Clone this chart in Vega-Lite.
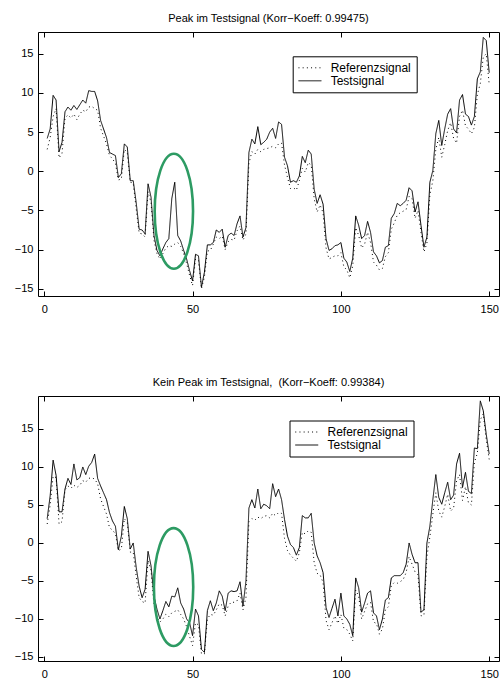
{
  "$schema": "https://vega.github.io/schema/vega-lite/v6.json",
  "padding": {"left": 13, "top": 12, "right": 0, "bottom": 0},
  "background": "white",
  "config": {
    "font": "Liberation Sans",
    "view": {"stroke": "black", "strokeWidth": 1},
    "axis": {"grid": false, "domain": false, "tickColor": "black", "tickSize": -5, "labelFont": "Liberation Sans", "labelFontSize": 11, "labelColor": "black", "title": null},
    "axisX": {"labelPadding": 12},
    "axisY": {"labelPadding": 10},
    "title": {"fontSize": 11, "fontWeight": "normal", "font": "Liberation Sans", "color": "black", "offset": 8},
    "legend": {"symbolType": "M -1 0 L 3 0", "symbolSize": 132, "symbolStrokeWidth": 1, "symbolStrokeColor": "black", "symbolFillColor": "transparent", "strokeColor": "black", "fillColor": "white", "padding": 5, "labelFontSize": 12, "labelFont": "Liberation Sans", "labelColor": "black", "labelOffset": 20, "rowPadding": 0, "cornerRadius": 0}
  },
  "datasets": {
    "top": [
      {"x":1,"ref":2.8,"test":4.2},{"x":2,"ref":4.3,"test":5.4},{"x":3,"ref":7.0,"test":9.7},{"x":4,"ref":8.0,"test":9.1},{"x":5,"ref":1.7,"test":2.5},
      {"x":6,"ref":2.3,"test":3.7},{"x":7,"ref":6.8,"test":7.6},{"x":8,"ref":7.2,"test":8.2},{"x":9,"ref":6.8,"test":7.8},{"x":10,"ref":7.3,"test":8.4},
      {"x":11,"ref":6.6,"test":7.9},{"x":12,"ref":7.3,"test":8.5},{"x":13,"ref":7.8,"test":9.1},{"x":14,"ref":7.6,"test":8.7},{"x":15,"ref":8.2,"test":10.3},
      {"x":16,"ref":8.3,"test":10.2},{"x":17,"ref":8.0,"test":10.2},{"x":18,"ref":7.8,"test":9.0},{"x":19,"ref":5.5,"test":6.5},{"x":20,"ref":4.5,"test":5.4},
      {"x":21,"ref":3.5,"test":4.3},{"x":22,"ref":2.0,"test":2.4},{"x":23,"ref":1.6,"test":2.2},{"x":24,"ref":1.0,"test":2.0},{"x":25,"ref":-1.1,"test":-0.8},
      {"x":26,"ref":-1.0,"test":-0.3},{"x":27,"ref":2.8,"test":3.5},{"x":28,"ref":2.4,"test":3.1},{"x":29,"ref":-1.4,"test":-1.2},{"x":30,"ref":-1.5,"test":-1.2},
      {"x":31,"ref":-4.8,"test":-4.0},{"x":32,"ref":-7.9,"test":-7.4},{"x":33,"ref":-8.0,"test":-7.5},{"x":34,"ref":-8.4,"test":-8.0},{"x":35,"ref":-2.6,"test":-1.6},
      {"x":36,"ref":-4.0,"test":-3.3},{"x":37,"ref":-8.8,"test":-8.2},{"x":38,"ref":-10.5,"test":-10.1},{"x":39,"ref":-11.2,"test":-10.8},{"x":40,"ref":-10.5,"test":-9.9},
      {"x":41,"ref":-9.8,"test":-9.1},{"x":42,"ref":-9.5,"test":-8.6},{"x":43,"ref":-9.6,"test":-3.5},{"x":44,"ref":-9.3,"test":-1.4},{"x":45,"ref":-9.1,"test":-8.2},
      {"x":46,"ref":-9.6,"test":-8.9},{"x":47,"ref":-10.5,"test":-10.1},{"x":48,"ref":-11.8,"test":-11.2},{"x":49,"ref":-13.3,"test":-12.7},{"x":50,"ref":-14.6,"test":-14.0},
      {"x":51,"ref":-11.2,"test":-10.6},{"x":52,"ref":-11.4,"test":-10.8},{"x":53,"ref":-15.0,"test":-14.8},{"x":54,"ref":-13.5,"test":-12.9},{"x":55,"ref":-10.2,"test":-9.4},
      {"x":56,"ref":-10.1,"test":-9.4},{"x":57,"ref":-9.3,"test":-9.1},{"x":58,"ref":-8.4,"test":-7.5},{"x":59,"ref":-8.6,"test":-7.8},{"x":60,"ref":-8.3,"test":-7.4},
      {"x":61,"ref":-10.0,"test":-9.7},{"x":62,"ref":-9.0,"test":-8.2},{"x":63,"ref":-8.7,"test":-7.9},{"x":64,"ref":-8.8,"test":-8.2},{"x":65,"ref":-7.6,"test":-6.7},
      {"x":66,"ref":-7.0,"test":-5.7},{"x":67,"ref":-8.8,"test":-8.4},{"x":68,"ref":-8.0,"test":-7.2},{"x":69,"ref":1.0,"test":2.4},{"x":70,"ref":2.5,"test":4.1},
      {"x":71,"ref":2.2,"test":3.5},{"x":72,"ref":2.8,"test":5.7},{"x":73,"ref":2.5,"test":3.4},{"x":74,"ref":2.8,"test":3.7},{"x":75,"ref":2.9,"test":4.1},
      {"x":76,"ref":3.0,"test":5.0},{"x":77,"ref":3.2,"test":5.5},{"x":78,"ref":3.0,"test":4.2},{"x":79,"ref":3.5,"test":6.3},{"x":80,"ref":3.6,"test":6.0},
      {"x":81,"ref":0.8,"test":1.8},{"x":82,"ref":-0.8,"test":0.7},{"x":83,"ref":-2.2,"test":-1.4},{"x":84,"ref":-2.1,"test":-1.2},{"x":85,"ref":-2.4,"test":-1.4},
      {"x":86,"ref":-1.2,"test":-0.6},{"x":87,"ref":0.4,"test":1.9},{"x":88,"ref":-0.1,"test":1.1},{"x":89,"ref":1.1,"test":2.7},{"x":90,"ref":0.8,"test":2.2},
      {"x":91,"ref":-3.5,"test":-2.3},{"x":92,"ref":-5.2,"test":-4.1},{"x":93,"ref":-4.3,"test":-3.0},{"x":94,"ref":-5.3,"test":-4.2},{"x":95,"ref":-9.8,"test":-8.6},
      {"x":96,"ref":-11.2,"test":-10.1},{"x":97,"ref":-11.0,"test":-9.9},{"x":98,"ref":-10.8,"test":-9.5},{"x":99,"ref":-10.8,"test":-9.4},{"x":100,"ref":-10.4,"test":-9.1},
      {"x":101,"ref":-12.2,"test":-11.1},{"x":102,"ref":-12.6,"test":-11.6},{"x":103,"ref":-13.6,"test":-12.8},{"x":104,"ref":-12.1,"test":-11.1},{"x":105,"ref":-7.2,"test":-5.7},
      {"x":106,"ref":-8.2,"test":-6.9},{"x":107,"ref":-9.8,"test":-8.6},{"x":108,"ref":-9.3,"test":-8.2},{"x":109,"ref":-7.8,"test":-6.4},{"x":110,"ref":-9.1,"test":-7.8},
      {"x":111,"ref":-11.6,"test":-10.3},{"x":112,"ref":-12.0,"test":-10.8},{"x":113,"ref":-12.6,"test":-11.7},{"x":114,"ref":-12.4,"test":-11.4},{"x":115,"ref":-10.9,"test":-9.7},
      {"x":116,"ref":-10.4,"test":-9.5},{"x":117,"ref":-7.4,"test":-6.0},{"x":118,"ref":-6.6,"test":-5.4},{"x":119,"ref":-5.6,"test":-4.1},{"x":120,"ref":-5.3,"test":-4.4},
      {"x":121,"ref":-5.1,"test":-4.1},{"x":122,"ref":-4.9,"test":-3.7},{"x":123,"ref":-3.2,"test":-2.1},{"x":124,"ref":-3.5,"test":-2.5},{"x":125,"ref":-6.0,"test":-5.2},
      {"x":126,"ref":-5.0,"test":-3.9},{"x":127,"ref":-7.8,"test":-6.9},{"x":128,"ref":-10.3,"test":-9.7},{"x":129,"ref":-9.2,"test":-8.4},{"x":130,"ref":-3.0,"test":-1.4},
      {"x":131,"ref":-1.2,"test":0.1},{"x":132,"ref":2.8,"test":4.8},{"x":133,"ref":4.3,"test":6.5},{"x":134,"ref":1.8,"test":3.3},{"x":135,"ref":3.4,"test":5.4},
      {"x":136,"ref":5.2,"test":7.3},{"x":137,"ref":6.2,"test":8.0},{"x":138,"ref":4.2,"test":5.4},{"x":139,"ref":3.6,"test":4.9},{"x":140,"ref":7.0,"test":9.1},
      {"x":141,"ref":7.8,"test":9.8},{"x":142,"ref":5.8,"test":7.3},{"x":143,"ref":5.4,"test":7.0},{"x":144,"ref":4.8,"test":5.9},{"x":145,"ref":5.6,"test":7.0},
      {"x":146,"ref":9.8,"test":11.8},{"x":147,"ref":11.2,"test":12.7},{"x":148,"ref":14.6,"test":17.1},{"x":149,"ref":15.0,"test":16.7},{"x":150,"ref":11.1,"test":12.6}
    ],
    "bottom": [
      {"x":1,"ref":2.5,"test":3.2},{"x":2,"ref":5.0,"test":6.2},{"x":3,"ref":8.8,"test":10.9},{"x":4,"ref":8.6,"test":8.9},{"x":5,"ref":2.5,"test":4.1},
      {"x":6,"ref":2.8,"test":4.1},{"x":7,"ref":7.0,"test":7.1},{"x":8,"ref":7.5,"test":8.5},{"x":9,"ref":7.2,"test":7.7},{"x":10,"ref":7.6,"test":10.4},
      {"x":11,"ref":7.3,"test":8.3},{"x":12,"ref":7.6,"test":8.6},{"x":13,"ref":8.2,"test":10.0},{"x":14,"ref":8.0,"test":9.0},{"x":15,"ref":8.5,"test":10.1},
      {"x":16,"ref":8.6,"test":10.6},{"x":17,"ref":8.4,"test":11.7},{"x":18,"ref":7.8,"test":8.5},{"x":19,"ref":5.8,"test":7.5},{"x":20,"ref":4.8,"test":6.6},
      {"x":21,"ref":3.8,"test":5.7},{"x":22,"ref":2.0,"test":4.0},{"x":23,"ref":1.7,"test":2.9},{"x":24,"ref":1.2,"test":2.2},{"x":25,"ref":-1.0,"test":-0.9},
      {"x":26,"ref":-0.8,"test":0.9},{"x":27,"ref":3.2,"test":4.8},{"x":28,"ref":2.7,"test":3.2},{"x":29,"ref":-1.2,"test":-0.8},{"x":30,"ref":-1.2,"test":0.0},
      {"x":31,"ref":-4.4,"test":-3.2},{"x":32,"ref":-7.2,"test":-5.7},{"x":33,"ref":-7.7,"test":-7.2},{"x":34,"ref":-7.9,"test":-6.1},{"x":35,"ref":-2.3,"test":-1.1},
      {"x":36,"ref":-3.6,"test":-3.0},{"x":37,"ref":-8.2,"test":-7.0},{"x":38,"ref":-9.8,"test":-8.7},{"x":39,"ref":-10.4,"test":-10.0},{"x":40,"ref":-10.0,"test":-8.9},
      {"x":41,"ref":-9.4,"test":-7.7},{"x":42,"ref":-9.7,"test":-8.4},{"x":43,"ref":-9.2,"test":-7.0},{"x":44,"ref":-9.0,"test":-7.1},{"x":45,"ref":-8.8,"test":-5.9},
      {"x":46,"ref":-9.4,"test":-7.9},{"x":47,"ref":-10.0,"test":-8.7},{"x":48,"ref":-11.0,"test":-10.0},{"x":49,"ref":-12.3,"test":-10.5},{"x":50,"ref":-13.5,"test":-12.2},
      {"x":51,"ref":-10.5,"test":-8.7},{"x":52,"ref":-10.8,"test":-9.6},{"x":53,"ref":-14.6,"test":-14.0},{"x":54,"ref":-14.6,"test":-14.4},{"x":55,"ref":-10.0,"test":-8.9},
      {"x":56,"ref":-9.4,"test":-7.6},{"x":57,"ref":-9.5,"test":-8.9},{"x":58,"ref":-8.8,"test":-7.9},{"x":59,"ref":-8.0,"test":-6.3},{"x":60,"ref":-8.2,"test":-7.0},
      {"x":61,"ref":-9.6,"test":-8.9},{"x":62,"ref":-8.3,"test":-6.6},{"x":63,"ref":-7.8,"test":-6.3},{"x":64,"ref":-7.8,"test":-6.4},{"x":65,"ref":-7.6,"test":-6.3},
      {"x":66,"ref":-6.6,"test":-5.1},{"x":67,"ref":-8.8,"test":-8.3},{"x":68,"ref":-7.2,"test":-5.0},{"x":69,"ref":2.8,"test":4.6},{"x":70,"ref":3.2,"test":5.7},
      {"x":71,"ref":3.0,"test":4.6},{"x":72,"ref":3.4,"test":7.1},{"x":73,"ref":3.2,"test":4.5},{"x":74,"ref":3.5,"test":5.1},{"x":75,"ref":3.6,"test":4.9},
      {"x":76,"ref":3.3,"test":4.5},{"x":77,"ref":3.9,"test":7.8},{"x":78,"ref":3.6,"test":6.1},{"x":79,"ref":4.0,"test":7.1},{"x":80,"ref":3.9,"test":5.7},
      {"x":81,"ref":0.6,"test":3.1},{"x":82,"ref":-1.0,"test":0.9},{"x":83,"ref":-1.6,"test":-0.2},{"x":84,"ref":-2.0,"test":-0.6},{"x":85,"ref":-2.4,"test":-1.6},
      {"x":86,"ref":-1.3,"test":-0.6},{"x":87,"ref":1.4,"test":3.6},{"x":88,"ref":1.2,"test":3.3},{"x":89,"ref":1.6,"test":3.3},{"x":90,"ref":1.4,"test":3.9},
      {"x":91,"ref":-2.6,"test":0.0},{"x":92,"ref":-4.0,"test":-1.7},{"x":93,"ref":-4.2,"test":-2.6},{"x":94,"ref":-5.2,"test":-3.9},{"x":95,"ref":-10.2,"test":-8.5},
      {"x":96,"ref":-11.4,"test":-9.8},{"x":97,"ref":-10.5,"test":-8.6},{"x":98,"ref":-9.6,"test":-7.4},{"x":99,"ref":-10.6,"test":-9.6},{"x":100,"ref":-9.4,"test":-6.6},
      {"x":101,"ref":-11.2,"test":-9.6},{"x":102,"ref":-11.4,"test":-10.0},{"x":103,"ref":-12.0,"test":-10.7},{"x":104,"ref":-12.9,"test":-12.2},{"x":105,"ref":-6.2,"test":-4.6},
      {"x":106,"ref":-7.0,"test":-5.9},{"x":107,"ref":-10.0,"test":-9.1},{"x":108,"ref":-9.0,"test":-7.9},{"x":109,"ref":-8.0,"test":-6.6},{"x":110,"ref":-7.8,"test":-6.3},
      {"x":111,"ref":-10.4,"test":-9.2},{"x":112,"ref":-10.6,"test":-9.6},{"x":113,"ref":-12.0,"test":-11.4},{"x":114,"ref":-11.3,"test":-10.0},{"x":115,"ref":-8.8,"test":-7.5},
      {"x":116,"ref":-8.4,"test":-7.2},{"x":117,"ref":-5.6,"test":-4.6},{"x":118,"ref":-5.2,"test":-4.3},{"x":119,"ref":-5.3,"test":-4.3},{"x":120,"ref":-5.1,"test":-4.3},
      {"x":121,"ref":-4.8,"test":-3.9},{"x":122,"ref":-3.9,"test":-2.8},{"x":123,"ref":-1.8,"test":0.0},{"x":124,"ref":-2.8,"test":-1.5},{"x":125,"ref":-3.8,"test":-2.6},
      {"x":126,"ref":-4.2,"test":-2.6},{"x":127,"ref":-9.6,"test":-9.1},{"x":128,"ref":-9.5,"test":-8.8},{"x":129,"ref":-1.8,"test":0.0},{"x":130,"ref":0.8,"test":2.2},
      {"x":131,"ref":3.8,"test":5.7},{"x":132,"ref":6.6,"test":9.0},{"x":133,"ref":4.2,"test":6.0},{"x":134,"ref":3.4,"test":5.1},{"x":135,"ref":4.8,"test":6.6},
      {"x":136,"ref":6.4,"test":8.0},{"x":137,"ref":4.2,"test":5.7},{"x":138,"ref":4.6,"test":6.3},{"x":139,"ref":8.2,"test":10.4},{"x":140,"ref":9.0,"test":11.8},
      {"x":141,"ref":5.6,"test":7.3},{"x":142,"ref":7.4,"test":9.3},{"x":143,"ref":5.3,"test":6.8},{"x":144,"ref":5.0,"test":6.5},{"x":145,"ref":10.6,"test":12.5},
      {"x":146,"ref":11.8,"test":12.4},{"x":147,"ref":16.2,"test":18.7},{"x":148,"ref":17.0,"test":17.4},{"x":149,"ref":13.6,"test":14.3},{"x":150,"ref":11.0,"test":11.7}
    ],
    "topMark": [{"x": 43.7, "y": -5.1}],
    "bottomMark": [{"x": 43.6, "y": -5.8}]
  },
  "spacing": 100,
  "bounds": "flush",
  "resolve": {"legend": {"strokeDash": "independent"}, "scale": {"x": "independent", "y": "independent", "strokeDash": "independent"}},
  "vconcat": [
    {
      "title": "Peak im Testsignal (Korr−Koeff: 0.99475)",
      "width": 461,
      "height": 264,
      "resolve": {"axis": {"x": "independent", "y": "independent"}},
      "layer": [
        {
          "data": {"name": "top"},
          "transform": [{"fold": ["ref", "test"], "as": ["Signal", "Wert"]}],
          "mark": {"type": "line", "strokeWidth": 1, "color": "black"},
          "encoding": {
            "x": {"field": "x", "type": "quantitative", "scale": {"domain": [-2.1, 153.3], "nice": false, "zero": false}, "axis": {"values": [0, 50, 100, 150], "orient": "bottom"}},
            "y": {"field": "Wert", "type": "quantitative", "scale": {"domain": [-15.93, 17.79], "nice": false, "zero": false}, "axis": {"values": [-15, -10, -5, 0, 5, 10, 15], "orient": "left"}},
            "strokeDash": {"field": "Signal", "type": "nominal", "scale": {"domain": ["ref", "test"], "range": [[1, 3.2], [1, 0]]}, "legend": {"orient": "none", "legendX": 254.7, "legendY": 24.3, "title": null, "labelExpr": "datum.label == 'ref' ? 'Referenzsignal' : 'Testsignal'"}}
          }
        },
        {
          "data": {"name": "topMark"},
          "mark": {"type": "point", "shape": "M -1 0 A 1 3 0 1 0 1 0 A 1 3 0 1 0 -1 0 Z", "size": 1470, "filled": false, "stroke": "#2d9b63", "strokeWidth": 2.6, "opacity": 1},
          "encoding": {
            "x": {"field": "x", "type": "quantitative", "axis": {"values": [0, 50, 100, 150], "orient": "top", "labels": false}},
            "y": {"field": "y", "type": "quantitative", "axis": {"values": [-15, -10, -5, 0, 5, 10, 15], "orient": "right", "labels": false}}
          }
        }
      ]
    },
    {
      "title": "Kein Peak im Testsignal,\u00a0 (Korr−Koeff: 0.99384)",
      "width": 461,
      "height": 265,
      "resolve": {"axis": {"x": "independent", "y": "independent"}},
      "layer": [
        {
          "data": {"name": "bottom"},
          "transform": [{"fold": ["ref", "test"], "as": ["Signal", "Wert"]}],
          "mark": {"type": "line", "strokeWidth": 1, "color": "black"},
          "encoding": {
            "x": {"field": "x", "type": "quantitative", "scale": {"domain": [-2.1, 153.3], "nice": false, "zero": false}, "axis": {"values": [0, 50, 100, 150], "orient": "bottom"}},
            "y": {"field": "Wert", "type": "quantitative", "scale": {"domain": [-15.53, 19.34], "nice": false, "zero": false}, "axis": {"values": [-15, -10, -5, 0, 5, 10, 15], "orient": "left"}},
            "strokeDash": {"field": "Signal", "type": "nominal", "scale": {"domain": ["ref", "test"], "range": [[1, 3.2], [1, 0]]}, "legend": {"orient": "none", "legendX": 251.5, "legendY": 24.5, "title": null, "labelExpr": "datum.label == 'ref' ? 'Referenzsignal' : 'Testsignal'"}}
          }
        },
        {
          "data": {"name": "bottomMark"},
          "mark": {"type": "point", "shape": "M -1 0 A 1 3 0 1 0 1 0 A 1 3 0 1 0 -1 0 Z", "size": 1545, "filled": false, "stroke": "#2d9b63", "strokeWidth": 2.6, "opacity": 1},
          "encoding": {
            "x": {"field": "x", "type": "quantitative", "axis": {"values": [0, 50, 100, 150], "orient": "top", "labels": false}},
            "y": {"field": "y", "type": "quantitative", "axis": {"values": [-15, -10, -5, 0, 5, 10, 15], "orient": "right", "labels": false}}
          }
        }
      ]
    }
  ]
}
